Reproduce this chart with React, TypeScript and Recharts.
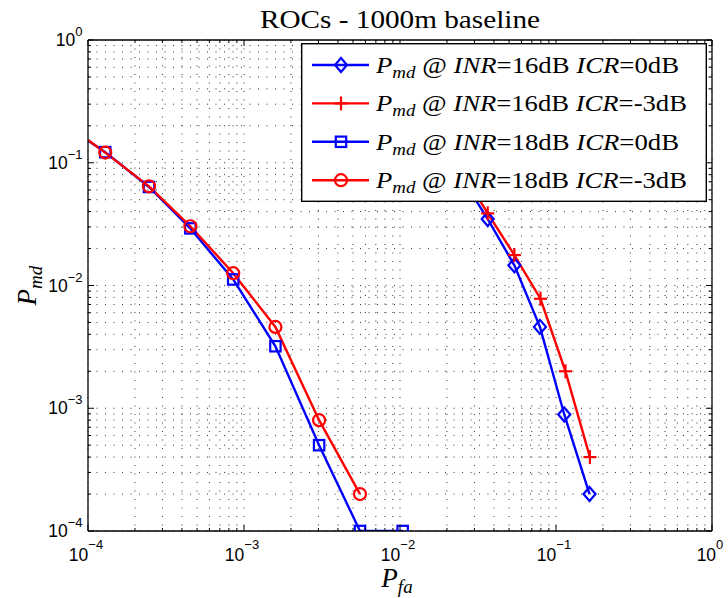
import React from 'react';
import { LineChart, Line, XAxis, YAxis, CartesianGrid, Legend, Label } from 'recharts';

// ---------- data ----------
const pfa18_0 = [1e-4, 1.29e-4, 2.46e-4, 4.53e-4, 8.53e-4, 1.59e-3, 3.03e-3, 5.54e-3, 1.04e-2];
const pmd18_0 = [0.152, 0.122, 0.0635, 0.0292, 0.0112, 0.0032, 5.0e-4, 1e-4, 1e-4];
const pfa18_m3 = [1e-4, 1.29e-4, 2.46e-4, 4.53e-4, 8.53e-4, 1.59e-3, 3.03e-3, 5.54e-3];
const pmd18_m3 = [0.153, 0.121, 0.0643, 0.0304, 0.0126, 0.0046, 8.0e-4, 2.0e-4];
const pfa16_0 = [0.01, 0.016, 0.025, 0.0365, 0.0541, 0.0789, 0.113, 0.164];
const pmd16_0 = [0.3, 0.16, 0.075, 0.0348, 0.0146, 0.0046, 8.9e-4, 2.0e-4];
const pfa16_m3 = [0.01, 0.016, 0.025, 0.0365, 0.0541, 0.0795, 0.115, 0.165];
const pmd16_m3 = [0.33, 0.18, 0.085, 0.0387, 0.0177, 0.0078, 0.002, 4.0e-4];

const xMajor = [1e-4, 1e-3, 1e-2, 1e-1, 1];
const xExp = ['\u22124', '\u22123', '\u22122', '\u22121', '0'];
const yMajor = [1e-4, 1e-3, 1e-2, 1e-1, 1];
const yExp = ['\u22124', '\u22123', '\u22122', '\u22121', '0'];
const minorMult = [2, 3, 4, 5, 6, 7, 8, 9];

const legendINR = ['16', '16', '18', '18'];
const legendICR = ['0', '-3', '0', '-3'];
const legendShape = ['diamond', 'plus', 'square', 'circle'];
const legendColor = ['#0000ff', '#ff0000', '#0000ff', '#ff0000'];
const legendTextLen = [303, 311, 303, 311];

const titleText = 'ROCs - 1000m baseline';

// ---------- helpers ----------
const BLUE = '#0000ff';
const RED = '#ff0000';
const SERIF = '"Liberation Serif", "Times New Roman", serif';
const SANS = '"Liberation Sans", Arial, Helvetica, sans-serif';
const LW = 2.4;

const withMinor = (majors: number[]) =>
  majors.flatMap((m, i) => (i < majors.length - 1 ? [m, ...minorMult.map((k) => k * m)] : [m]));
const xTicks = withMinor(xMajor);
const yTicks = withMinor(yMajor);

const toPts = (xs: number[], ys: number[]) => xs.map((x, i) => ({ x, y: ys[i] }));

const majorIndex = (v: number, majors: number[]) =>
  majors.findIndex((m) => Math.abs(Math.log10(m) - Math.log10(v)) < 1e-9);

function Marker({ shape, cx, cy, color }: any) {
  const sw = 2.2;
  if (shape === 'diamond')
    return (
      <polygon
        points={`${cx},${cy - 7} ${cx + 6},${cy} ${cx},${cy + 7} ${cx - 6},${cy}`}
        fill="none"
        stroke={color}
        strokeWidth={sw}
      />
    );
  if (shape === 'square')
    return <rect x={cx - 5.2} y={cy - 5.2} width={10.4} height={10.4} fill="none" stroke={color} strokeWidth={sw} />;
  if (shape === 'circle') return <circle cx={cx} cy={cy} r={6} fill="none" stroke={color} strokeWidth={sw} />;
  return (
    <g stroke={color} strokeWidth={sw}>
      <line x1={cx - 6.5} x2={cx + 6.5} y1={cy} y2={cy} />
      <line x1={cx} x2={cx} y1={cy - 7} y2={cy + 7} />
    </g>
  );
}

const makeDot = (shape: string, color: string, skipFirst: boolean) => (props: any) => {
  const { cx, cy, index } = props;
  if ((skipFirst && index === 0) || cx == null || cy == null) return <g key={`d-${index}`} />;
  return (
    <g key={`d-${index}`}>
      <Marker shape={shape} cx={cx} cy={cy} color={color} />
    </g>
  );
};

// ---------- ticks ----------
const XTickBottom = (props: any) => {
  const { x, y, payload } = props;
  const idx = majorIndex(payload.value, xMajor);
  const major = idx >= 0;
  return (
    <g>
      <line x1={x} x2={x} y1={y} y2={y - (major ? 6 : 3)} stroke="#000" strokeWidth={1} />
      {major && (
        <text x={x - 2} y={y + 30} textAnchor="middle" fontFamily={SANS} fontSize={17.5} fill="#000">
          <tspan>10</tspan>
          <tspan dy={-12} fontSize={13}>
            {xExp[idx]}
          </tspan>
        </text>
      )}
    </g>
  );
};

const XTickTop = (props: any) => {
  const { x, y, payload } = props;
  const major = majorIndex(payload.value, xMajor) >= 0;
  return <line x1={x} x2={x} y1={y} y2={y + (major ? 6 : 3)} stroke="#000" strokeWidth={1} />;
};

const YTickLeft = (props: any) => {
  const { x, y, payload } = props;
  const idx = majorIndex(payload.value, yMajor);
  const major = idx >= 0;
  return (
    <g>
      <line x1={x} x2={x + (major ? 6 : 3)} y1={y} y2={y} stroke="#000" strokeWidth={1} />
      {major && (
        <text x={x - 5.5} y={y + 6} textAnchor="end" fontFamily={SANS} fontSize={17.5} fill="#000">
          <tspan>10</tspan>
          <tspan dy={-10} fontSize={13}>
            {yExp[idx]}
          </tspan>
        </text>
      )}
    </g>
  );
};

const YTickRight = (props: any) => {
  const { x, y, payload } = props;
  const major = majorIndex(payload.value, yMajor) >= 0;
  return <line x1={x} x2={x - (major ? 6 : 3)} y1={y} y2={y} stroke="#000" strokeWidth={1} />;
};

// ---------- labels ----------
const TitleLabel = (props: any) => {
  const vb = props.viewBox || {};
  const cx = vb.x + vb.width / 2;
  return (
    <text
      x={cx}
      y={vb.y + vb.height - 12}
      textAnchor="middle"
      fontFamily={SERIF}
      fontSize={26}
      fill="#000"
      textLength={280}
      lengthAdjust="spacingAndGlyphs"
    >
      {titleText}
    </text>
  );
};

const XAxisLabel = (props: any) => {
  const vb = props.viewBox || {};
  const cx = vb.x + vb.width / 2 - 3;
  return (
    <text x={cx} y={vb.y + 56} textAnchor="middle" fontFamily={SERIF} fontSize={27} fill="#000">
      <tspan fontStyle="italic">P</tspan>
      <tspan fontStyle="italic" fontSize={19} dy={6}>
        fa
      </tspan>
    </text>
  );
};

const YAxisLabel = (props: any) => {
  const vb = props.viewBox || {};
  const cy = vb.y + vb.height / 2;
  const bx = 36;
  return (
    <text
      x={bx}
      y={cy}
      transform={`rotate(-90, ${bx}, ${cy})`}
      textAnchor="middle"
      fontFamily={SERIF}
      fontSize={27}
      fill="#000"
    >
      <tspan fontStyle="italic">P</tspan>
      <tspan fontStyle="italic" fontSize={19} dy={6}>
        md
      </tspan>
    </text>
  );
};

// ---------- legend ----------
const LegendBox = () => {
  const w = 406;
  const h = 159;
  return (
    <svg width={w} height={h} style={{ display: 'block' }}>
      <rect x={0.7} y={0.7} width={w - 1.4} height={h - 1.4} fill="#fff" stroke="#000" strokeWidth={1.4} />
      {legendINR.map((inr, i) => {
        const cy = 22 + i * 38.4;
        const color = legendColor[i];
        return (
          <g key={i}>
            <line x1={11} x2={68} y1={cy} y2={cy} stroke={color} strokeWidth={LW} />
            <Marker shape={legendShape[i]} cx={40} cy={cy} color={color} />
            <text
              x={75}
              y={cy + 8}
              fontFamily={SERIF}
              fontSize={24}
              fill="#000"
              textLength={legendTextLen[i]}
              lengthAdjust="spacingAndGlyphs"
            >
              <tspan fontStyle="italic">P</tspan>
              <tspan fontStyle="italic" fontSize={17} dy={5}>
                md
              </tspan>
              <tspan dy={-5}>{' @ '}</tspan>
              <tspan fontStyle="italic">INR</tspan>
              <tspan>{`=${inr}dB `}</tspan>
              <tspan fontStyle="italic">ICR</tspan>
              <tspan>{`=${legendICR[i]}dB`}</tspan>
            </text>
          </g>
        );
      })}
    </svg>
  );
};

const axisLineStyle = { stroke: '#000', strokeWidth: 1.3 };

export default function App() {
  return (
    <>
      <style>{'body{margin:0;}'}</style>
      <LineChart width={728} height={598} margin={{ top: 39, right: 15, bottom: 0, left: 0 }}>
        <CartesianGrid stroke="#333" strokeWidth={1} strokeDasharray="1 7.5" />
        <XAxis
          dataKey="x"
          type="number"
          scale="log"
          domain={[1e-4, 1]}
          allowDataOverflow
          ticks={xTicks}
          interval={0}
          tickSize={0}
          tickMargin={0}
          tickLine={false}
          axisLine={axisLineStyle}
          tick={<XTickBottom />}
          height={67}
        >
          <Label content={<XAxisLabel />} />
        </XAxis>
        <XAxis
          xAxisId="top"
          orientation="top"
          dataKey="x"
          type="number"
          scale="log"
          domain={[1e-4, 1]}
          allowDataOverflow
          ticks={xTicks}
          interval={0}
          tickSize={0}
          tickMargin={0}
          tickLine={false}
          axisLine={axisLineStyle}
          tick={<XTickTop />}
          height={1}
        >
          <Label content={<TitleLabel />} />
        </XAxis>
        <YAxis
          type="number"
          scale="log"
          domain={[1e-4, 1]}
          allowDataOverflow
          ticks={yTicks}
          interval={0}
          tickSize={0}
          tickMargin={0}
          tickLine={false}
          axisLine={axisLineStyle}
          tick={<YTickLeft />}
          width={88}
        >
          <Label content={<YAxisLabel />} />
        </YAxis>
        <YAxis
          yAxisId="right"
          orientation="right"
          type="number"
          scale="log"
          domain={[1e-4, 1]}
          allowDataOverflow
          ticks={yTicks}
          interval={0}
          tickSize={0}
          tickMargin={0}
          tickLine={false}
          axisLine={axisLineStyle}
          tick={<YTickRight />}
          width={1}
        />
        <Line
          data={toPts(pfa18_0, pmd18_0)}
          dataKey="y"
          name="18dB 0dB"
          stroke={BLUE}
          strokeWidth={LW}
          dot={makeDot('square', BLUE, true)}
          activeDot={false}
          isAnimationActive={false}
        />
        <Line
          data={toPts(pfa18_m3, pmd18_m3)}
          dataKey="y"
          name="18dB -3dB"
          stroke={RED}
          strokeWidth={LW}
          dot={makeDot('circle', RED, true)}
          activeDot={false}
          isAnimationActive={false}
        />
        <Line
          data={toPts(pfa16_0, pmd16_0)}
          dataKey="y"
          name="16dB 0dB"
          stroke={BLUE}
          strokeWidth={LW}
          dot={makeDot('diamond', BLUE, false)}
          activeDot={false}
          isAnimationActive={false}
        />
        <Line
          data={toPts(pfa16_m3, pmd16_m3)}
          dataKey="y"
          name="16dB -3dB"
          stroke={RED}
          strokeWidth={LW}
          dot={makeDot('plus', RED, false)}
          activeDot={false}
          isAnimationActive={false}
        />
        <Legend
          layout="horizontal"
          verticalAlign="middle"
          align="center"
          content={<LegendBox />}
          wrapperStyle={{ left: 301, top: 43, width: 406, height: 159 }}
        />
      </LineChart>
    </>
  );
}
